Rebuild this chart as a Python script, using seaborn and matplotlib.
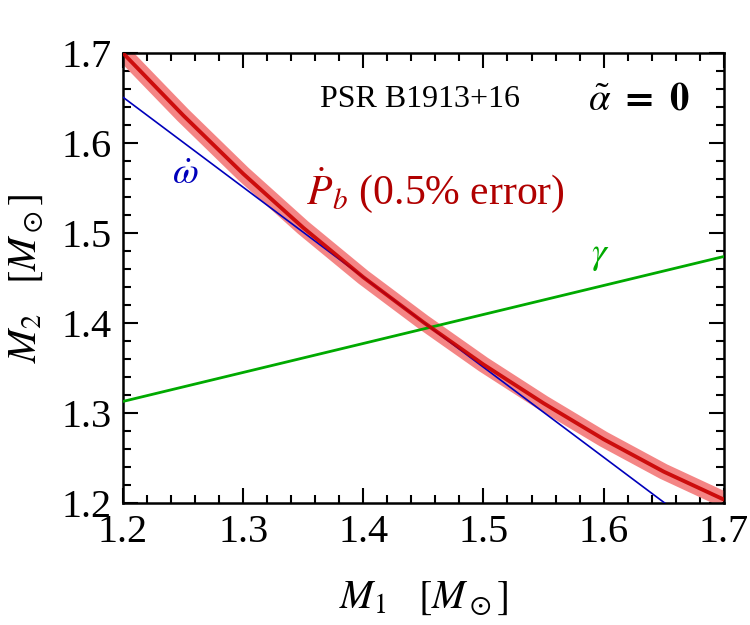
import numpy as np
import pandas as pd
import seaborn as sns
import matplotlib
matplotlib.use("Agg")
import matplotlib.pyplot as plt

# Data
pdot_m1 = [1.20, 1.25, 1.30, 1.35, 1.40, 1.45, 1.50, 1.55, 1.60, 1.65, 1.70]
pdot_m2 = [1.700, 1.631, 1.566, 1.506, 1.451, 1.401, 1.354, 1.311, 1.271, 1.235, 1.204]
omega_m1 = [1.20, 1.70]
omega_m2 = [1.651, 1.151]
gamma_m1 = [1.20, 1.70]
gamma_m2 = [1.313, 1.474]
xticks = [1.2, 1.3, 1.4, 1.5, 1.6, 1.7]
yticks = [1.2, 1.3, 1.4, 1.5, 1.6, 1.7]

sns.set_style("ticks")
plt.rcParams["font.family"] = ["Liberation Serif", "DejaVu Serif"]
plt.rcParams["mathtext.fontset"] = "stix"
plt.rcParams["text.color"] = "black"
plt.rcParams["axes.labelcolor"] = "black"
plt.rcParams["xtick.color"] = "black"
plt.rcParams["ytick.color"] = "black"

fig = plt.figure(figsize=(7.5, 6.25), dpi=100)
ax = fig.add_axes([0.164, 0.195, 0.801, 0.720])

pdot = pd.DataFrame({"M1": pdot_m1, "M2": pdot_m2})
omega = pd.DataFrame({"M1": omega_m1, "M2": omega_m2})
gamma = pd.DataFrame({"M1": gamma_m1, "M2": gamma_m2})

sns.lineplot(data=pdot, x="M1", y="M2", ax=ax, color="#f48585", lw=11.5,
             sort=False, solid_capstyle="butt", zorder=2)
sns.lineplot(data=omega, x="M1", y="M2", ax=ax, color="#0000bb", lw=1.2,
             sort=False, zorder=3)
sns.lineplot(data=gamma, x="M1", y="M2", ax=ax, color="#00aa00", lw=2.0,
             sort=False, zorder=3)
sns.lineplot(data=pdot, x="M1", y="M2", ax=ax, color="#c80000", lw=2.8,
             sort=False, zorder=4, alpha=0.9)

ax.set_xlim(1.2, 1.7)
ax.set_ylim(1.2, 1.7)
ax.set_xticks(xticks)
ax.set_yticks(yticks)
ax.set_xticklabels([f"{t:.1f}" for t in xticks])
ax.set_yticklabels([f"{t:.1f}" for t in yticks])
ax.xaxis.set_minor_locator(matplotlib.ticker.MultipleLocator(0.02))
ax.yaxis.set_minor_locator(matplotlib.ticker.MultipleLocator(0.02))
ax.tick_params(which="both", direction="in", top=True, right=True,
               color="black", width=1.5, labelcolor="black")
ax.tick_params(which="major", length=11, labelsize=29, pad=8)
ax.tick_params(which="minor", length=5.5)
for s in ax.spines.values():
    s.set_linewidth(1.8)
    s.set_color("black")

ax.set_xlabel(r"$M_1\quad[M_\odot]$", fontsize=29, labelpad=20, color="black")
ax.set_ylabel(r"$M_2\quad[M_\odot]$", fontsize=29, labelpad=12, color="black")

ax.text(1.4475, 1.648, "PSR B1913+16", fontsize=23, ha="center", va="center",
        color="black")
ax.text(1.6295, 1.648, r"$\boldsymbol{\tilde{\alpha}}$ $\mathbf{=}$ $\mathbf{0}$",
        fontsize=28, ha="center", va="center", fontweight="bold", color="black")
ax.text(1.46, 1.548, r"$\dot{P}_b$ (0.5% error)", fontsize=30, color="#b00000",
        ha="center", va="center")
ax.text(1.252, 1.565, r"$\dot{\omega}$", fontsize=27, color="#0000bb",
        ha="center", va="center")
ax.text(1.5975, 1.475, r"$\gamma$", fontsize=27, color="#00aa00",
        ha="center", va="center")

fig.savefig("out.png", dpi=100)
